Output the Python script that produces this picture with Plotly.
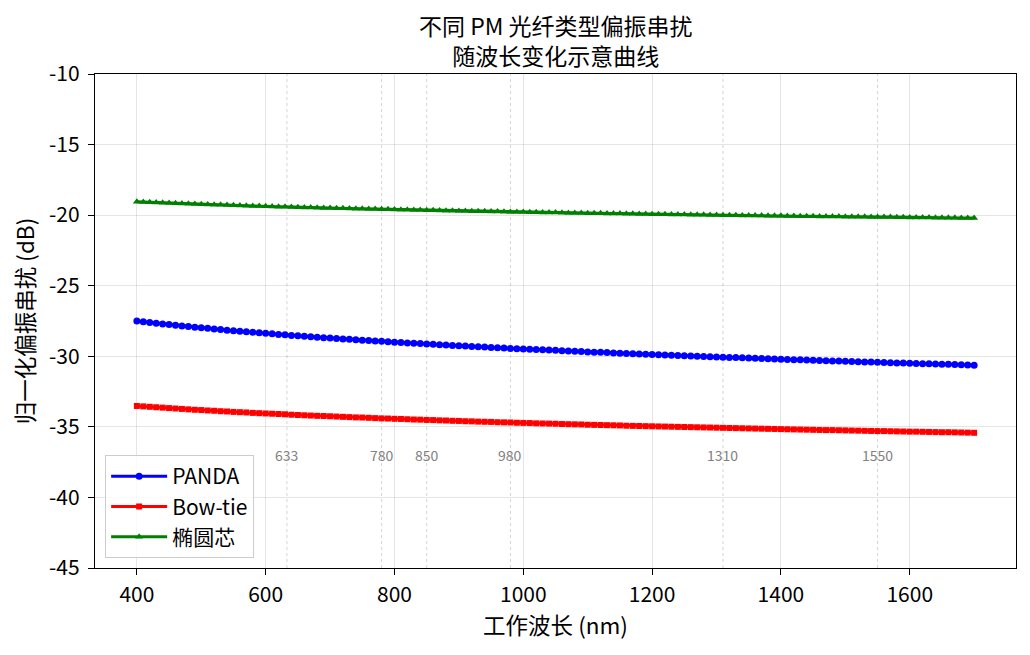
import plotly.graph_objects as go

# 工作波长 (nm)
wavelength = [
    400, 410, 420, 430, 440, 450, 460, 470, 480, 490,
    500, 510, 520, 530, 540, 550, 560, 570, 580, 590,
    600, 610, 620, 630, 640, 650, 660, 670, 680, 690,
    700, 710, 720, 730, 740, 750, 760, 770, 780, 790,
    800, 810, 820, 830, 840, 850, 860, 870, 880, 890,
    900, 910, 920, 930, 940, 950, 960, 970, 980, 990,
    1000, 1010, 1020, 1030, 1040, 1050, 1060, 1070, 1080, 1090,
    1100, 1110, 1120, 1130, 1140, 1150, 1160, 1170, 1180, 1190,
    1200, 1210, 1220, 1230, 1240, 1250, 1260, 1270, 1280, 1290,
    1300, 1310, 1320, 1330, 1340, 1350, 1360, 1370, 1380, 1390,
    1400, 1410, 1420, 1430, 1440, 1450, 1460, 1470, 1480, 1490,
    1500, 1510, 1520, 1530, 1540, 1550, 1560, 1570, 1580, 1590,
    1600, 1610, 1620, 1630, 1640, 1650, 1660, 1670, 1680, 1690,
    1700,
]

panda = [
    -27.50, -27.55, -27.61, -27.66, -27.71, -27.75, -27.80, -27.85, -27.89, -27.94,
    -27.98, -28.02, -28.07, -28.11, -28.15, -28.19, -28.23, -28.26, -28.30, -28.34,
    -28.37, -28.41, -28.45, -28.48, -28.52, -28.55, -28.58, -28.61, -28.65, -28.68,
    -28.71, -28.74, -28.77, -28.80, -28.83, -28.86, -28.89, -28.91, -28.94, -28.97,
    -29.00, -29.02, -29.05, -29.08, -29.10, -29.13, -29.15, -29.18, -29.20, -29.23,
    -29.25, -29.28, -29.30, -29.32, -29.34, -29.37, -29.39, -29.41, -29.44, -29.46,
    -29.48, -29.50, -29.52, -29.54, -29.56, -29.58, -29.61, -29.63, -29.64, -29.66,
    -29.69, -29.71, -29.72, -29.74, -29.76, -29.78, -29.80, -29.82, -29.84, -29.85,
    -29.87, -29.89, -29.91, -29.93, -29.94, -29.96, -29.98, -29.99, -30.01, -30.03,
    -30.05, -30.06, -30.08, -30.09, -30.11, -30.13, -30.14, -30.16, -30.17, -30.19,
    -30.21, -30.22, -30.24, -30.25, -30.27, -30.28, -30.30, -30.31, -30.33, -30.34,
    -30.36, -30.37, -30.38, -30.40, -30.41, -30.43, -30.44, -30.45, -30.47, -30.48,
    -30.49, -30.51, -30.52, -30.53, -30.55, -30.56, -30.57, -30.59, -30.60, -30.61,
    -30.63,
]

bowtie = [
    -33.52, -33.55, -33.58, -33.61, -33.64, -33.67, -33.70, -33.73, -33.76, -33.79,
    -33.81, -33.84, -33.86, -33.89, -33.91, -33.94, -33.96, -33.98, -34.01, -34.03,
    -34.05, -34.07, -34.09, -34.11, -34.14, -34.16, -34.18, -34.20, -34.22, -34.23,
    -34.25, -34.27, -34.29, -34.31, -34.33, -34.34, -34.36, -34.38, -34.40, -34.41,
    -34.43, -34.44, -34.46, -34.48, -34.49, -34.51, -34.52, -34.54, -34.55, -34.57,
    -34.58, -34.60, -34.61, -34.63, -34.64, -34.65, -34.67, -34.68, -34.69, -34.71,
    -34.72, -34.73, -34.75, -34.76, -34.77, -34.78, -34.80, -34.81, -34.82, -34.83,
    -34.85, -34.86, -34.87, -34.88, -34.89, -34.90, -34.92, -34.93, -34.94, -34.95,
    -34.96, -34.97, -34.98, -34.99, -35.00, -35.01, -35.02, -35.03, -35.04, -35.05,
    -35.06, -35.07, -35.08, -35.09, -35.10, -35.11, -35.12, -35.13, -35.14, -35.15,
    -35.16, -35.17, -35.18, -35.19, -35.20, -35.21, -35.22, -35.23, -35.23, -35.24,
    -35.25, -35.26, -35.27, -35.28, -35.29, -35.30, -35.30, -35.31, -35.32, -35.33,
    -35.34, -35.34, -35.35, -35.36, -35.37, -35.38, -35.38, -35.39, -35.40, -35.41,
    -35.42,
]

elliptical = [
    -19.05, -19.07, -19.09, -19.11, -19.13, -19.14, -19.16, -19.18, -19.20, -19.21,
    -19.23, -19.24, -19.26, -19.27, -19.29, -19.30, -19.32, -19.33, -19.35, -19.36,
    -19.37, -19.39, -19.40, -19.41, -19.43, -19.44, -19.45, -19.46, -19.47, -19.49,
    -19.50, -19.51, -19.52, -19.53, -19.54, -19.55, -19.56, -19.57, -19.58, -19.59,
    -19.60, -19.61, -19.62, -19.63, -19.64, -19.65, -19.66, -19.67, -19.68, -19.69,
    -19.70, -19.71, -19.72, -19.73, -19.73, -19.74, -19.75, -19.76, -19.77, -19.77,
    -19.78, -19.79, -19.80, -19.81, -19.81, -19.82, -19.83, -19.84, -19.84, -19.85,
    -19.86, -19.87, -19.87, -19.88, -19.89, -19.89, -19.90, -19.91, -19.92, -19.92,
    -19.93, -19.94, -19.94, -19.95, -19.95, -19.96, -19.97, -19.97, -19.98, -19.99,
    -19.99, -20.00, -20.01, -20.01, -20.02, -20.02, -20.03, -20.03, -20.04, -20.05,
    -20.05, -20.06, -20.06, -20.07, -20.07, -20.08, -20.09, -20.09, -20.10, -20.10,
    -20.11, -20.11, -20.12, -20.12, -20.13, -20.13, -20.14, -20.14, -20.15, -20.15,
    -20.16, -20.16, -20.17, -20.17, -20.18, -20.18, -20.19, -20.19, -20.20, -20.20,
    -20.21,
]

# 常用波长标记
marked_wl = [633, 780, 850, 980, 1310, 1550]
marked_label_y = -37.0

x_ticks = [400, 600, 800, 1000, 1200, 1400, 1600]
y_ticks = [-45, -40, -35, -30, -25, -20, -15, -10]

series = [
    ("PANDA", panda, "blue", "circle", 7),
    ("Bow-tie", bowtie, "red", "square", 6),
    ("椭圆芯", elliptical, "green", "triangle-up", 7),
]

FONT = "Noto Sans CJK SC, Noto Sans, DejaVu Sans, sans-serif"

fig = go.Figure()

for name, vals, color, sym, msize in series:
    fig.add_trace(go.Scatter(
        x=wavelength, y=vals, name=name, mode="lines+markers",
        line=dict(color=color, width=3),
        marker=dict(color=color, symbol=sym, size=msize, line=dict(width=0)),
    ))

for wl in marked_wl:
    fig.add_shape(type="line", x0=wl, x1=wl, y0=0, y1=1, yref="paper",
                  line=dict(color="rgba(128,128,128,0.5)", width=0.7, dash="dot"),
                  layer="below")
    fig.add_annotation(x=wl, y=marked_label_y, text=str(wl), showarrow=False,
                       font=dict(size=14, color="gray", family=FONT))

axis_common = dict(
    showline=True, linecolor="black", linewidth=1.2, mirror=True,
    ticks="outside", ticklen=6, tickwidth=1.2, tickcolor="black",
    showgrid=True, gridcolor="rgba(0,0,0,0.1)", gridwidth=1,
    zeroline=False, tickfont=dict(size=21, color="black", family=FONT),
)

fig.update_xaxes(range=[335, 1765], tickvals=x_ticks, ticktext=[str(v) for v in x_ticks],
                 title=dict(text="工作波长 (nm)", font=dict(size=22.5, family=FONT), standoff=6),
                 ticklabelstandoff=2, **axis_common)
fig.update_yaxes(range=[-45, -10], tickvals=y_ticks, ticktext=[str(v) for v in y_ticks],
                 title=dict(text="归一化偏振串扰 (dB)", font=dict(size=22.5, family=FONT), standoff=14),
                 ticklabelstandoff=4, **axis_common)

fig.update_layout(
    width=1022, height=647,
    margin=dict(l=87, r=14, t=66, b=87, autoexpand=False),
    paper_bgcolor="white", plot_bgcolor="white",
    font=dict(family=FONT, color="black"),
    legend=dict(x=0.011, y=0.02, xanchor="left", yanchor="bottom",
                bgcolor="rgba(255,255,255,0.8)", bordercolor="#cccccc", borderwidth=1,
                font=dict(size=21, family=FONT), itemwidth=56, tracegroupgap=0),
    showlegend=True,
)

# 两行标题
fig.add_annotation(text="不同 PM 光纤类型偏振串扰<br>随波长变化示意曲线",
                   xref="paper", yref="paper", x=0.5, y=1.0683,
                   xanchor="center", yanchor="middle", align="center",
                   showarrow=False, font=dict(size=23, family=FONT))

fig.write_html("out.html")
